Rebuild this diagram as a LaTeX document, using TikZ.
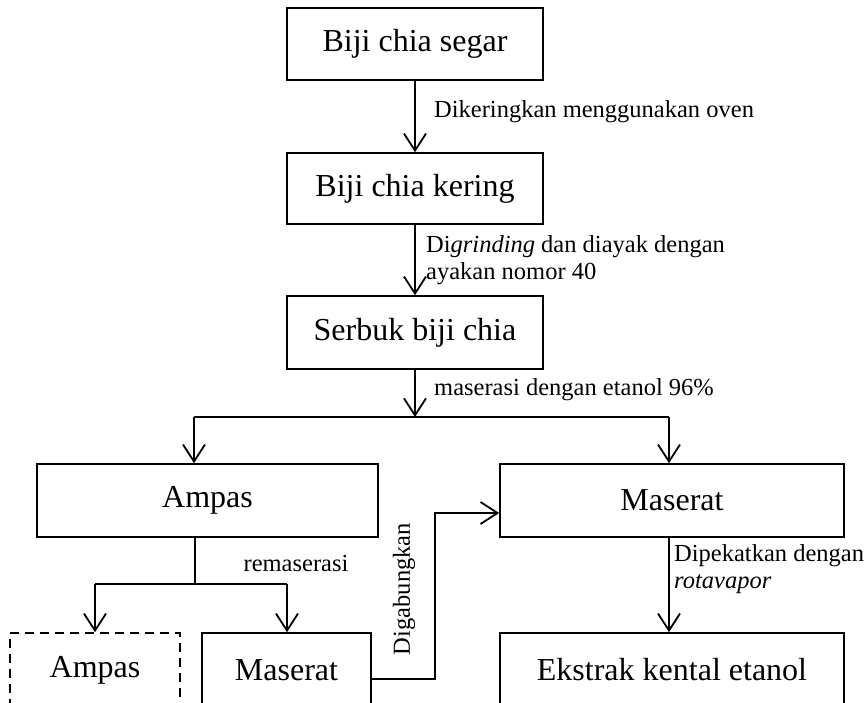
\documentclass[tikz,border=0pt]{standalone}
\usepackage{fontspec}
\setmainfont{Liberation Serif}
\usetikzlibrary{arrows.meta}
\begin{document}
\begin{tikzpicture}[x=1pt,y=-1pt,
  box/.style={draw,line width=1.6pt,rectangle,inner sep=0pt,font=\fontsize{32}{38}\selectfont},
  lbl/.style={font=\fontsize{24.5}{27}\selectfont,inner sep=0pt,align=left},
  ln/.style={line width=1.8pt},
  arr/.style={line width=1.8pt,-{Straight Barb[length=17pt,width=22pt,line width=1.8pt]}}]
\useasboundingbox (0,0) rectangle (865,702);
\clip (0,0) rectangle (865,702);
% boxes
\node[box,minimum width=256pt,minimum height=72pt] (b1) at (415,44) {Biji chia segar};
\node[box,minimum width=256pt,minimum height=71pt] (b2) at (415,188.5) {Biji chia kering};
\node[box,minimum width=256pt,minimum height=73pt] (b3) at (415,332.5) {Serbuk biji chia};
\node[box,minimum width=341pt,minimum height=73pt] (amp) at (207.5,500.5) {Ampas};
\node[box,minimum width=344pt,minimum height=73pt] (mas) at (672,500.5) {Maserat};
\node[box,dashed,dash pattern=on 9pt off 6pt,minimum width=170pt,minimum height=74pt] (amp2) at (95,670) {Ampas};
\node[box,minimum width=169pt,minimum height=74pt] (mas2) at (286.5,670) {Maserat};
\node[box,minimum width=344pt,minimum height=74pt] (eks) at (672,670) {Ekstrak kental etanol};
% coordinates
\coordinate (s) at (415,417);
\coordinate (sl) at (194,417);
\coordinate (sr) at (669,417);
\coordinate (r) at (195,584);
\coordinate (rl) at (95,584);
\coordinate (rr) at (287,584);
\coordinate (g1) at (435,679);
\coordinate (g2) at (435,513);
% connectors
\draw[arr] (b1) -- (b2);
\draw[arr] (b2) -- (b3);
\draw[arr] (b3) -- (s);
\draw[ln] (sl) -- (sr);
\draw[arr] (sl) -- (sl |- amp.north);
\draw[arr] (sr) -- (sr |- mas.north);
\draw[ln] (amp.south -| r) -- (r);
\draw[ln] (rl) -- (rr);
\draw[arr] (rl) -- (rl |- amp2.north);
\draw[arr] (rr) -- (rr |- mas2.north);
\draw[arr] (mas2.east |- g1) -- (g1) -- (g2) -- (mas.west |- g2);
\draw[arr] (mas.south -| sr) -- (eks.north -| sr);
% labels
\node[lbl,anchor=west] (l1) at (434,112) {Dikeringkan menggunakan oven};
\node[lbl,anchor=west] (l2) at (426,260) {Di\textit{grinding} dan diayak dengan\\ayakan nomor 40};
\node[lbl,anchor=west] (l3) at (434,390) {maserasi dengan etanol 96\%};
\node[lbl] (l4) at (296,563) {remaserasi};
\node[lbl,rotate=90] (l5) at (404,589) {Digabungkan};
\node[lbl,anchor=west] (l6) at (674,569) {Dipekatkan dengan\\\textit{rotavapor}};
\end{tikzpicture}
\end{document}
